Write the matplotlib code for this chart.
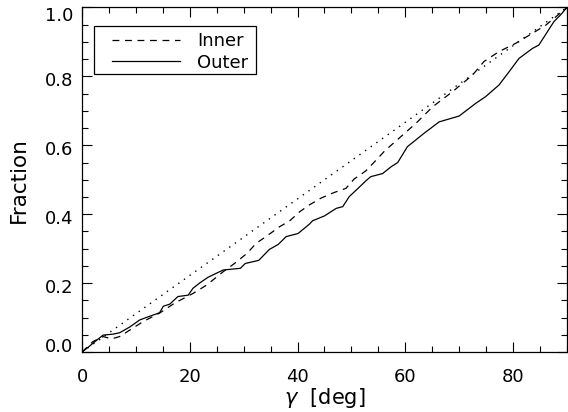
import matplotlib
matplotlib.use("Agg")
import matplotlib.pyplot as plt
import matplotlib.transforms as mtransforms
from matplotlib.patches import Rectangle
from matplotlib.ticker import MultipleLocator

# cumulative fraction vs gamma
outer_x = [0, 1, 2, 3.9, 5.8, 7.0, 8.9, 10.7, 12.6, 14.4, 15.1, 16.3, 17.8, 19.7,
           20.6, 21.9, 23.4, 26.2, 29.4, 30.3, 32.8, 34.8, 36.4, 37.9, 40.1, 42.2,
           42.8, 45.0, 47.2, 48.4, 49.6, 50.9, 52.7, 53.6, 55.8, 57.4, 58.6, 60.4,
           63.5, 66.3, 70.0, 73.1, 74.9, 77.4, 79.3, 81.1, 83.6, 84.8, 86.4, 87.6,
           88.8, 90]
outer_y = [0, 0.012, 0.025, 0.049, 0.052, 0.056, 0.073, 0.093, 0.104, 0.114, 0.133,
           0.139, 0.161, 0.165, 0.185, 0.201, 0.217, 0.238, 0.243, 0.257, 0.266,
           0.298, 0.312, 0.335, 0.344, 0.371, 0.381, 0.395, 0.417, 0.422, 0.451,
           0.470, 0.497, 0.509, 0.518, 0.538, 0.550, 0.596, 0.635, 0.668, 0.685,
           0.722, 0.741, 0.775, 0.814, 0.852, 0.881, 0.891, 0.930, 0.959, 0.978, 1.0]

inner_x = [0, 1, 2, 3.9, 5.5, 7.0, 9.0, 11.3, 14.4, 17.2, 20.6, 23.1, 26.2, 28.3,
           30.6, 32.3, 34.5, 36.7, 38.5, 40.4, 42.2, 44.4, 46.8, 49.0, 50.5, 52.7,
           54.6, 56.2, 58.3, 62.0, 65.1, 68.8, 72.5, 74.6, 77.4, 80.5, 83.6, 86.1,
           89.1, 90]
inner_y = [0, 0.015, 0.030, 0.045, 0.038, 0.045, 0.065, 0.088, 0.113, 0.142, 0.170,
           0.194, 0.233, 0.257, 0.286, 0.315, 0.339, 0.364, 0.380, 0.407, 0.427,
           0.447, 0.463, 0.475, 0.502, 0.526, 0.557, 0.584, 0.613, 0.664, 0.712,
           0.756, 0.804, 0.843, 0.872, 0.896, 0.925, 0.949, 0.988, 1.0]

ref_x = [0, 90]
ref_y = [0, 1]

xticks = [0, 20, 40, 60, 80]
yticks = [0.0, 0.2, 0.4, 0.6, 0.8, 1.0]

fig = plt.figure(figsize=(5.68, 4.12), dpi=100)
ax = fig.add_axes([0.1444, 0.1456, 0.8536, 0.8362])

ax.plot(ref_x, ref_y, color="black", lw=1.0, linestyle=(0, (1, 4)))
ax.plot(inner_x, inner_y, color="black", lw=0.9, linestyle=(0, (5.5, 4.5)), label="Inner")
ax.plot(outer_x, outer_y, color="black", lw=0.9, linestyle="-", label="Outer")

ax.set_xlim(0, 90)
ax.set_ylim(0, 1)
ax.set_xticks(xticks)
ax.set_yticks(yticks)
ax.set_yticklabels([f"{v:.1f}" for v in yticks])
ax.xaxis.set_minor_locator(MultipleLocator(5))
ax.yaxis.set_minor_locator(MultipleLocator(0.05))
ax.tick_params(which="both", direction="in", top=True, right=True, labelsize=13, width=0.8)
ax.tick_params(which="major", length=7)
ax.tick_params(which="minor", length=4)
ax.tick_params(axis="x", which="major", pad=11.5)
ax.tick_params(axis="y", which="major", pad=6.5)
for s in ax.spines.values():
    s.set_linewidth(0.9)

# IDL-like placement of the y tick labels (end labels pulled inwards)
for v, tick in zip(yticks, ax.yaxis.get_major_ticks()):
    if v == yticks[0]:
        dy = 7
    elif v == yticks[-1]:
        dy = -7
    else:
        dy = -3
    off = mtransforms.ScaledTranslation(0, dy / 100, fig.dpi_scale_trans)
    tick.label1.set_transform(tick.label1.get_transform() + off)

ax.set_xlabel(r"$\gamma$  [deg]", fontsize=15, labelpad=0)
ax.set_ylabel("Fraction", fontsize=15.5, labelpad=11)

# legend box drawn by hand, entries without frame
ax.add_patch(Rectangle((0.0247, 0.807), 0.334, 0.1393, transform=ax.transAxes,
                       fill=False, edgecolor="black", lw=0.9, zorder=5))
leg = ax.legend(loc="upper left", bbox_to_anchor=(0.0619, 0.929), fontsize=13,
                frameon=False, handlelength=3.77, handletextpad=0.94,
                borderpad=0, labelspacing=0.2, borderaxespad=0)

fig.savefig("out.png", dpi=100)
